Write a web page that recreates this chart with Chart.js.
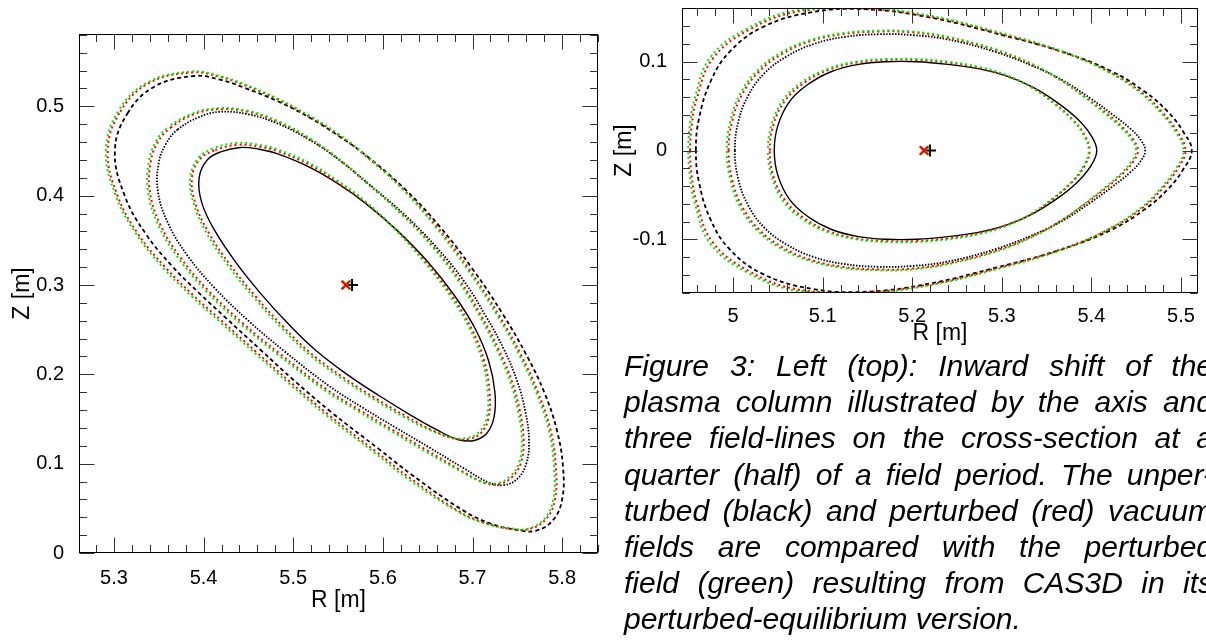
<!DOCTYPE html>
<html lang="en">
<head>
<meta charset="UTF-8">
<title>Inward shift of the plasma column</title>
<script src="https://cdn.jsdelivr.net/npm/chart.js"></script>
<style>
  body { margin: 0; background: #fff; width: 1206px; height: 644px; overflow: hidden; position: relative;
         font-family: "Liberation Sans", Arial, sans-serif; }
  #leftBox { position: absolute; left: 0; top: 0; width: 610px; height: 622px; }
  #rightBox { position: absolute; left: 600px; top: 0; width: 606px; height: 350px; }
  #caption { position: absolute; left: 624px; top: 348px; width: 589px; font-style: italic;
             font-size: 30px; line-height: 36.2px; color: #000; }
  #caption div { text-align: justify; text-align-last: justify; }
  #caption div.last { text-align-last: left; }
</style>
</head>
<body>
<div id="leftBox"><canvas id="leftChart"></canvas></div>
<div id="rightBox"><canvas id="rightChart"></canvas></div>
<div id="caption">
  <div>Figure 3: Left (top): Inward shift of the</div>
  <div>plasma column illustrated by the axis and</div>
  <div>three field-lines on the cross-section at a</div>
  <div>quarter (half) of a field period. The unper-</div>
  <div>turbed (black) and perturbed (red) vacuum</div>
  <div>fields are compared with the perturbed</div>
  <div>field (green) resulting from CAS3D in its</div>
  <div class="last">perturbed-equilibrium version.</div>
</div>

<script>
// ---- left panel: quarter field period, [R, Z] ----
const leftRTicks = [5.3, 5.4, 5.5, 5.6, 5.7, 5.8];
const leftZTicks = [0, 0.1, 0.2, 0.3, 0.4, 0.5];

const leftInnerBlack = [[5.419,0.449],[5.441,0.454],[5.462,0.452],[5.482,0.447],[5.519,0.4315],[5.549,0.414],[5.580,0.392],[5.615,0.362],[5.650,0.326],[5.680,0.288],[5.703,0.251],[5.718,0.215],[5.725,0.180],[5.724,0.152],[5.716,0.134],[5.702,0.126],[5.684,0.127],[5.660,0.138],[5.630,0.155],[5.596,0.176],[5.560,0.200],[5.525,0.227],[5.495,0.256],[5.465,0.289],[5.437,0.324],[5.413,0.360],[5.398,0.392],[5.395,0.420],[5.404,0.440]];
const leftInnerRed = [[5.413,0.451],[5.438,0.457],[5.461,0.455],[5.482,0.450],[5.519,0.434],[5.549,0.415],[5.580,0.393],[5.614,0.362],[5.648,0.326],[5.677,0.288],[5.699,0.251],[5.713,0.215],[5.719,0.180],[5.718,0.152],[5.710,0.135],[5.697,0.128],[5.680,0.128],[5.656,0.137],[5.626,0.153],[5.592,0.173],[5.555,0.197],[5.519,0.224],[5.489,0.253],[5.459,0.286],[5.430,0.322],[5.406,0.358],[5.391,0.391],[5.387,0.420],[5.396,0.441]];
const leftInnerGreen = [[5.411,0.453],[5.437,0.459],[5.461,0.457],[5.482,0.452],[5.519,0.436],[5.549,0.417],[5.580,0.394],[5.613,0.363],[5.646,0.326],[5.675,0.288],[5.697,0.251],[5.711,0.215],[5.717,0.180],[5.716,0.152],[5.708,0.136],[5.695,0.129],[5.678,0.129],[5.654,0.137],[5.624,0.152],[5.590,0.172],[5.553,0.196],[5.517,0.223],[5.487,0.252],[5.457,0.285],[5.428,0.321],[5.404,0.357],[5.389,0.391],[5.385,0.420],[5.394,0.442]];

const leftMidBlack = [[5.371,0.474],[5.395,0.488],[5.419,0.494],[5.450,0.491],[5.482,0.481],[5.519,0.462],[5.550,0.441],[5.582,0.415],[5.626,0.377],[5.660,0.342],[5.690,0.305],[5.715,0.265],[5.735,0.228],[5.750,0.192],[5.759,0.158],[5.763,0.127],[5.760,0.100],[5.750,0.083],[5.735,0.076],[5.718,0.079],[5.690,0.095],[5.652,0.118],[5.615,0.140],[5.577,0.163],[5.540,0.187],[5.490,0.226],[5.450,0.260],[5.412,0.297],[5.382,0.333],[5.360,0.370],[5.349,0.405],[5.350,0.437],[5.358,0.458]];
const leftMidRed = [[5.363,0.476],[5.389,0.491],[5.417,0.497],[5.449,0.494],[5.482,0.483],[5.519,0.463],[5.550,0.441],[5.581,0.415],[5.624,0.377],[5.657,0.342],[5.686,0.305],[5.710,0.265],[5.729,0.228],[5.744,0.192],[5.753,0.158],[5.757,0.127],[5.754,0.101],[5.744,0.085],[5.729,0.077],[5.712,0.079],[5.686,0.093],[5.649,0.115],[5.612,0.137],[5.574,0.160],[5.536,0.184],[5.485,0.223],[5.444,0.257],[5.405,0.294],[5.374,0.331],[5.351,0.369],[5.340,0.405],[5.341,0.438],[5.349,0.460]];
const leftMidGreen = [[5.361,0.477],[5.388,0.492],[5.417,0.498],[5.449,0.495],[5.482,0.484],[5.519,0.464],[5.550,0.442],[5.581,0.416],[5.623,0.377],[5.656,0.342],[5.684,0.305],[5.708,0.265],[5.727,0.228],[5.742,0.192],[5.751,0.158],[5.755,0.127],[5.752,0.101],[5.742,0.086],[5.727,0.078],[5.710,0.080],[5.684,0.093],[5.647,0.114],[5.610,0.136],[5.572,0.159],[5.534,0.183],[5.483,0.222],[5.442,0.256],[5.403,0.293],[5.372,0.330],[5.349,0.368],[5.338,0.405],[5.339,0.438],[5.347,0.461]];

const leftOuterBlack = [[5.315,0.492],[5.345,0.522],[5.389,0.534],[5.418,0.530],[5.445,0.521],[5.482,0.506],[5.519,0.487],[5.549,0.468],[5.580,0.446],[5.626,0.406],[5.663,0.366],[5.700,0.318],[5.734,0.267],[5.760,0.222],[5.780,0.180],[5.794,0.138],[5.801,0.096],[5.800,0.060],[5.790,0.037],[5.771,0.025],[5.749,0.026],[5.720,0.033],[5.689,0.048],[5.633,0.087],[5.596,0.116],[5.542,0.158],[5.500,0.194],[5.464,0.227],[5.425,0.263],[5.395,0.291],[5.365,0.321],[5.335,0.358],[5.312,0.400],[5.301,0.450]];
const leftOuterRed = [[5.307,0.494],[5.339,0.526],[5.388,0.538],[5.418,0.533],[5.445,0.524],[5.482,0.508],[5.519,0.488],[5.549,0.469],[5.579,0.446],[5.624,0.406],[5.660,0.366],[5.696,0.318],[5.729,0.267],[5.754,0.222],[5.773,0.180],[5.787,0.138],[5.793,0.096],[5.792,0.060],[5.782,0.038],[5.764,0.027],[5.743,0.027],[5.716,0.033],[5.686,0.046],[5.630,0.084],[5.593,0.113],[5.539,0.155],[5.497,0.191],[5.460,0.224],[5.420,0.260],[5.389,0.288],[5.358,0.319],[5.327,0.357],[5.304,0.400],[5.293,0.450]];
const leftOuterGreen = [[5.305,0.495],[5.338,0.527],[5.387,0.539],[5.418,0.534],[5.445,0.525],[5.482,0.509],[5.519,0.489],[5.549,0.470],[5.579,0.447],[5.623,0.406],[5.658,0.366],[5.694,0.318],[5.727,0.267],[5.752,0.222],[5.771,0.180],[5.785,0.138],[5.791,0.096],[5.790,0.060],[5.780,0.038],[5.761,0.027],[5.740,0.028],[5.714,0.033],[5.684,0.046],[5.628,0.083],[5.591,0.112],[5.537,0.154],[5.495,0.190],[5.458,0.223],[5.418,0.259],[5.387,0.287],[5.356,0.318],[5.325,0.357],[5.302,0.400],[5.291,0.450]];

const leftAxisBlack = [5.5656, 0.300];
const leftAxisRed = [5.5585, 0.300];
const leftAxisGreen = [5.5595, 0.300];

// ---- right panel: half field period ----
const rightRTicks = [5, 5.1, 5.2, 5.3, 5.4, 5.5];
const rightZTicks = [-0.1, 0, 0.1];

const rightInnerBlack = [[5.046,0],[5.050,0.028],[5.063,0.055],[5.083,0.074],[5.110,0.089],[5.140,0.097],[5.171,0.100],[5.205,0.100],[5.240,0.097],[5.275,0.092],[5.305,0.084],[5.335,0.071],[5.362,0.054],[5.384,0.036],[5.399,0.018],[5.406,0],[5.399,-0.018],[5.384,-0.036],[5.362,-0.054],[5.335,-0.071],[5.305,-0.084],[5.275,-0.092],[5.240,-0.097],[5.205,-0.100],[5.171,-0.100],[5.140,-0.097],[5.110,-0.089],[5.083,-0.074],[5.063,-0.055],[5.050,-0.028]];
const rightInnerRed = [[5.041,0],[5.045,0.029],[5.058,0.056],[5.079,0.076],[5.107,0.091],[5.138,0.099],[5.171,0.102],[5.205,0.102],[5.240,0.099],[5.275,0.093],[5.305,0.084],[5.334,0.071],[5.359,0.053],[5.379,0.035],[5.392,0.018],[5.398,0],[5.392,-0.018],[5.379,-0.035],[5.359,-0.053],[5.334,-0.071],[5.305,-0.084],[5.275,-0.093],[5.240,-0.099],[5.205,-0.102],[5.171,-0.102],[5.138,-0.099],[5.107,-0.091],[5.079,-0.076],[5.058,-0.056],[5.045,-0.029]];
const rightInnerGreen = [[5.039,0],[5.043,0.029],[5.056,0.057],[5.077,0.077],[5.106,0.092],[5.137,0.100],[5.171,0.103],[5.205,0.103],[5.240,0.100],[5.275,0.094],[5.305,0.085],[5.333,0.071],[5.358,0.053],[5.378,0.035],[5.391,0.018],[5.397,0],[5.391,-0.018],[5.378,-0.035],[5.358,-0.053],[5.333,-0.071],[5.305,-0.085],[5.275,-0.094],[5.240,-0.100],[5.205,-0.103],[5.171,-0.103],[5.137,-0.100],[5.106,-0.092],[5.077,-0.077],[5.056,-0.057],[5.043,-0.029]];

const rightMidBlack = [[5.002,0],[5.006,0.033],[5.017,0.062],[5.035,0.087],[5.060,0.106],[5.090,0.120],[5.125,0.128],[5.163,0.131],[5.200,0.130],[5.240,0.125],[5.293,0.111],[5.335,0.095],[5.368,0.079],[5.400,0.058],[5.423,0.041],[5.443,0.025],[5.455,0.012],[5.460,0],[5.455,-0.012],[5.443,-0.025],[5.423,-0.041],[5.400,-0.058],[5.368,-0.079],[5.335,-0.095],[5.293,-0.111],[5.240,-0.125],[5.200,-0.130],[5.163,-0.131],[5.125,-0.128],[5.090,-0.120],[5.060,-0.106],[5.035,-0.087],[5.017,-0.062],[5.006,-0.033]];
const rightMidRed = [[4.995,0],[4.999,0.033],[5.010,0.063],[5.029,0.089],[5.055,0.109],[5.086,0.123],[5.122,0.131],[5.163,0.134],[5.200,0.133],[5.240,0.127],[5.293,0.113],[5.335,0.096],[5.366,0.079],[5.396,0.058],[5.418,0.041],[5.436,0.025],[5.447,0.012],[5.452,0],[5.447,-0.012],[5.436,-0.025],[5.418,-0.041],[5.396,-0.058],[5.366,-0.079],[5.335,-0.096],[5.293,-0.113],[5.240,-0.127],[5.200,-0.133],[5.163,-0.134],[5.122,-0.131],[5.086,-0.123],[5.055,-0.109],[5.029,-0.089],[5.010,-0.063],[4.999,-0.033]];
const rightMidGreen = [[4.993,0],[4.997,0.033],[5.008,0.064],[5.027,0.090],[5.053,0.110],[5.085,0.124],[5.121,0.132],[5.163,0.135],[5.200,0.134],[5.240,0.128],[5.293,0.114],[5.335,0.097],[5.365,0.080],[5.395,0.058],[5.416,0.041],[5.434,0.025],[5.445,0.012],[5.450,0],[5.445,-0.012],[5.434,-0.025],[5.416,-0.041],[5.395,-0.058],[5.365,-0.080],[5.335,-0.097],[5.293,-0.114],[5.240,-0.128],[5.200,-0.134],[5.163,-0.135],[5.121,-0.132],[5.085,-0.124],[5.053,-0.110],[5.027,-0.090],[5.008,-0.064],[4.997,-0.033]];

const rightOuterBlack = [[4.9585,0],[4.962,0.036],[4.975,0.078],[4.996,0.111],[5.033,0.139],[5.089,0.156],[5.150,0.159],[5.219,0.150],[5.293,0.132],[5.368,0.111],[5.423,0.089],[5.460,0.066],[5.485,0.044],[5.502,0.022],[5.512,0],[5.502,-0.022],[5.485,-0.044],[5.460,-0.066],[5.423,-0.089],[5.368,-0.111],[5.293,-0.132],[5.219,-0.150],[5.150,-0.159],[5.089,-0.156],[5.033,-0.139],[4.996,-0.111],[4.975,-0.078],[4.962,-0.036]];
const rightOuterRed = [[4.952,0],[4.954,0.030],[4.959,0.057],[4.977,0.103],[5.018,0.136],[5.074,0.157],[5.145,0.160],[5.219,0.151],[5.293,0.133],[5.367,0.111],[5.421,0.088],[5.458,0.064],[5.480,0.042],[5.496,0.021],[5.505,0],[5.496,-0.021],[5.480,-0.042],[5.458,-0.064],[5.421,-0.088],[5.367,-0.111],[5.293,-0.133],[5.219,-0.151],[5.145,-0.160],[5.074,-0.157],[5.018,-0.136],[4.977,-0.103],[4.959,-0.057],[4.954,-0.030]];
const rightOuterGreen = [[4.950,0],[4.952,0.030],[4.957,0.058],[4.974,0.104],[5.015,0.137],[5.071,0.158],[5.145,0.161],[5.219,0.152],[5.293,0.134],[5.367,0.112],[5.420,0.088],[5.456,0.064],[5.478,0.042],[5.494,0.021],[5.503,0],[5.494,-0.021],[5.478,-0.042],[5.456,-0.064],[5.420,-0.088],[5.367,-0.112],[5.293,-0.134],[5.219,-0.152],[5.145,-0.161],[5.071,-0.158],[5.015,-0.137],[4.974,-0.104],[4.957,-0.058],[4.952,-0.030]];

const rightAxisBlack = [5.2198, 0];
const rightAxisRed = [5.2130, 0];
const rightAxisGreen = [5.2140, 0];

// ---- styling ----
const FONT = '"Liberation Sans", Arial, sans-serif';
const RED = '#ff0000';
const GREEN = '#00e600';

function curve(pairs, color, width, dash, offset, order) {
  return {
    data: pairs.map(([r, z]) => ({ x: r, y: z })), closed: true, showLine: true,
    borderColor: color, borderWidth: width, borderDash: dash, borderDashOffset: offset || 0,
    pointRadius: 0, pointHoverRadius: 0, tension: 0.4, fill: false, order: order
  };
}

function marker(pt, style, color) {
  return {
    data: [{ x: pt[0], y: pt[1] }], showLine: false, pointStyle: style, pointRadius: 6,
    pointBorderWidth: 2, borderColor: color, backgroundColor: color, order: 0
  };
}

const fmt = v => String(Math.round(v * 100) / 100);

// field lines are closed curves: let the line element wrap around like a radar line
const closeLoops = {
  id: 'closeLoops',
  afterDatasetUpdate(chart, args) {
    if (chart.data.datasets[args.index].closed && args.meta.dataset) {
      args.meta.dataset._loop = true;
      args.meta.dataset._fullLoop = true;
    }
  }
};

// frame with inward ticks on all four sides (major 0.1, minor 0.02)
const frameTicks = {
  id: 'frameTicks',
  afterDatasetsDraw(chart) {
    const { ctx, chartArea: a, scales } = chart;
    const L = Math.round(a.left) + 0.5, R = Math.round(a.right) - 0.5;
    const T = Math.round(a.top) + 0.5, B = Math.round(a.bottom) - 0.5;
    ctx.save();
    ctx.lineWidth = 1;
    ctx.strokeStyle = '#333';
    ctx.beginPath();
    const each = (scale, fn) => {
      const start = Math.ceil(scale.min / 0.02 - 1e-6);
      const end = Math.floor(scale.max / 0.02 + 1e-6);
      for (let k = start; k <= end; k++) {
        const major = Math.abs(k / 5 - Math.round(k / 5)) < 1e-6;
        fn(Math.round(scale.getPixelForValue(k * 0.02)) + 0.5, major ? 15 : 7.5);
      }
    };
    each(scales.x, (p, len) => {
      ctx.moveTo(p, B); ctx.lineTo(p, B - len);
      ctx.moveTo(p, T); ctx.lineTo(p, T + len);
    });
    each(scales.y, (p, len) => {
      ctx.moveTo(L, p); ctx.lineTo(L + len, p);
      ctx.moveTo(R, p); ctx.lineTo(R - len, p);
    });
    ctx.stroke();
    ctx.strokeStyle = '#000';
    ctx.strokeRect(L, T, R - L, B - T);
    ctx.restore();
  }
};

function makeChart(id, datasets, xr, yr, xt, yt, g) {
  return new Chart(document.getElementById(id), {
    type: 'scatter',
    data: { datasets: datasets },
    options: {
      responsive: true, maintainAspectRatio: false, animation: false, devicePixelRatio: 1, events: [],
      layout: { padding: g.pad },
      plugins: { legend: { display: false }, tooltip: { enabled: false } },
      scales: {
        x: {
          type: 'linear', min: xr[0], max: xr[1],
          grid: { display: false }, border: { display: false },
          ticks: { includeBounds: false, padding: g.xtick, color: '#000', font: { size: 20, family: FONT },
                   maxRotation: 0, autoSkip: false, callback: fmt },
          afterBuildTicks: s => { s.ticks = xt.map(v => ({ value: v })); },
          afterFit: s => { s.height = g.xh; s.paddingLeft = 0; s.paddingRight = 0; },
          title: { display: true, text: 'R [m]', color: '#000', font: { size: 23, family: FONT },
                   padding: { top: 0, bottom: g.xtp } }
        },
        y: {
          type: 'linear', min: yr[0], max: yr[1],
          grid: { display: false }, border: { display: false },
          ticks: { includeBounds: false, padding: 7, color: '#000', font: { size: 20, family: FONT },
                   autoSkip: false, callback: fmt },
          afterBuildTicks: s => { s.ticks = yt.map(v => ({ value: v })); },
          afterFit: s => { s.width = g.yw; s.paddingTop = 0; s.paddingBottom = 0; },
          title: { display: true, text: 'Z [m]', color: '#000', font: { size: 23, family: FONT },
                   padding: { top: g.ytp, bottom: 0 } }
        }
      }
    },
    plugins: [closeLoops, frameTicks]
  });
}

makeChart('leftChart', [
  curve(leftInnerBlack, '#000', 1.4, [], 0, 3),
  curve(leftMidBlack, '#000', 1.8, [1.5, 1.5], 0, 3),
  curve(leftOuterBlack, '#000', 1.8, [4, 3], 0, 3),
  curve(leftInnerRed, RED, 2, [2, 3], 0, 2),
  curve(leftMidRed, RED, 2, [2, 3], 0, 2),
  curve(leftOuterRed, RED, 2, [2, 3], 0, 2),
  curve(leftInnerGreen, GREEN, 2, [2, 3], 2.5, 1),
  curve(leftMidGreen, GREEN, 2, [2, 3], 2.5, 1),
  curve(leftOuterGreen, GREEN, 2, [2, 3], 2.5, 1),
  marker(leftAxisRed, 'crossRot', RED),
  marker(leftAxisGreen, 'crossRot', GREEN),
  marker(leftAxisBlack, 'cross', '#000')
], [5.261, 5.840], [0, 0.581], leftRTicks, leftZTicks,
   { pad: { left: 0, top: 34, right: 12, bottom: 0 }, xh: 69, yw: 79, xtick: 5, xtp: 8, ytp: 9 });

makeChart('rightChart', [
  curve(rightInnerBlack, '#000', 1.4, [], 0, 3),
  curve(rightMidBlack, '#000', 1.8, [1.5, 1.5], 0, 3),
  curve(rightOuterBlack, '#000', 1.8, [4, 3], 0, 3),
  curve(rightInnerRed, RED, 2, [2, 3], 0, 2),
  curve(rightMidRed, RED, 2, [2, 3], 0, 2),
  curve(rightOuterRed, RED, 2, [2, 3], 0, 2),
  curve(rightInnerGreen, GREEN, 2, [2, 3], 2.5, 1),
  curve(rightMidGreen, GREEN, 2, [2, 3], 2.5, 1),
  curve(rightOuterGreen, GREEN, 2, [2, 3], 2.5, 1),
  marker(rightAxisRed, 'crossRot', RED),
  marker(rightAxisGreen, 'crossRot', GREEN),
  marker(rightAxisBlack, 'cross', '#000')
], [4.943, 5.519], [-0.1605, 0.1605], rightRTicks, rightZTicks,
   { pad: { left: 0, top: 6, right: 7, bottom: 0 }, xh: 57, yw: 82, xtick: 3, xtp: 3, ytp: 11 });
</script>
</body>
</html>
